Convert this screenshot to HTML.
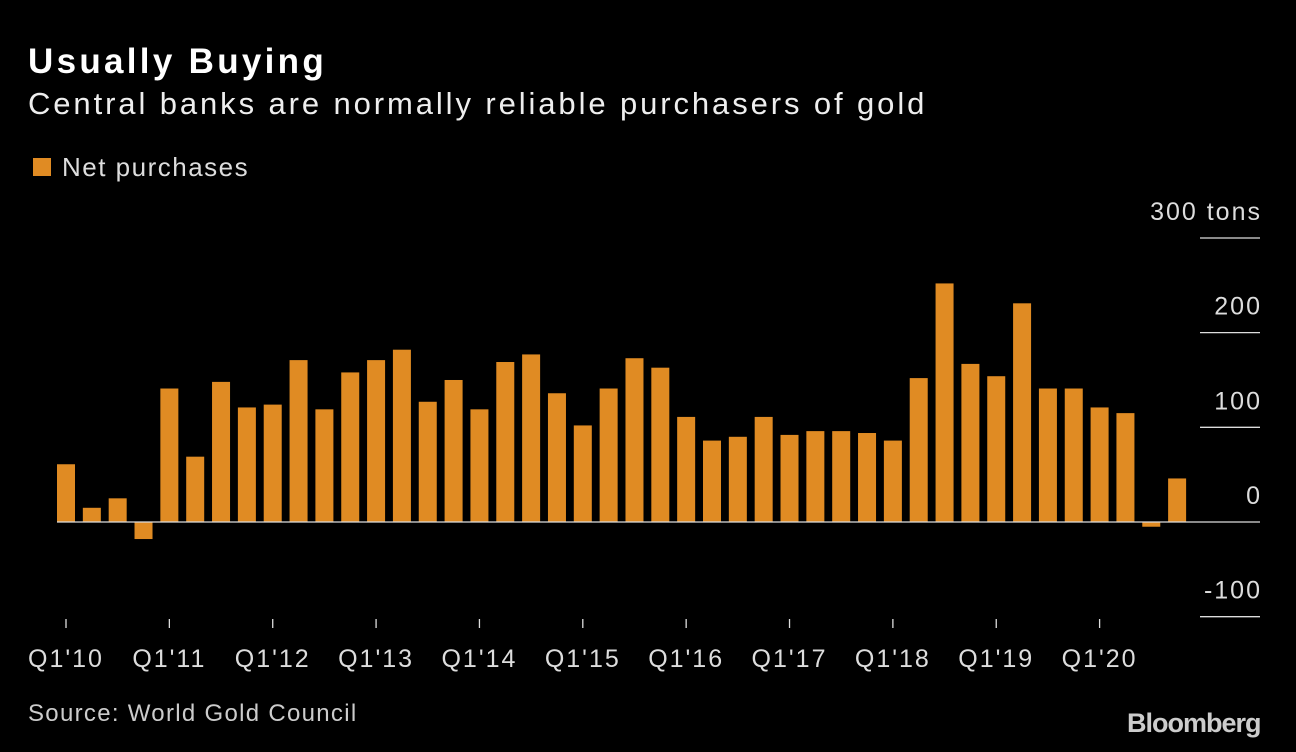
<!DOCTYPE html>
<html><head><meta charset="utf-8"><style>
html,body{margin:0;padding:0;background:#000;width:1296px;height:752px;overflow:hidden;font-family:"Liberation Sans",sans-serif;color:#fff}
.t{position:absolute;white-space:nowrap}
</style></head><body>
<div class="t" style="left:28px;top:42px;font-size:35px;font-weight:bold;letter-spacing:3.3px">Usually Buying</div>
<div class="t" style="left:28px;top:86px;font-size:31px;color:#eee;letter-spacing:2.9px">Central banks are normally reliable purchasers of gold</div>
<div class="t" style="left:33px;top:158px;width:18px;height:18px;background:#e08b23"></div>
<div class="t" style="left:62px;top:152px;font-size:26px;color:#ddd;letter-spacing:1.5px">Net purchases</div>
<div class="t" style="left:28px;top:700px;font-size:24px;color:#ccc;letter-spacing:1.3px">Source: World Gold Council</div>
<div class="t" style="left:1127px;top:708px;font-size:27px;font-weight:bold;color:#ccc;letter-spacing:-1px">Bloomberg</div>
<svg id="chart" width="1296" height="752" style="position:absolute;left:0;top:0"></svg>
<script>
const values=[61,15,25,-18,141,69,148,121,124,171,119,158,171,182,127,150,119,169,177,136,102,141,173,163,111,86,90,111,92,96,96,94,86,152,252,167,154,231,141,141,121,115,-5,46];
const yTicks=[-100,0,100,200,300];
const xLabels=["Q1'10","Q1'11","Q1'12","Q1'13","Q1'14","Q1'15","Q1'16","Q1'17","Q1'18","Q1'19","Q1'20"];
const svg=document.getElementById('chart');
const NS='http://www.w3.org/2000/svg';
const y=v=>522-v*0.9467;
const x=i=>66+i*25.84;
function mk(t,a){const e=document.createElementNS(NS,t);for(const k in a)e.setAttribute(k,a[k]);svg.appendChild(e);return e;}
yTicks.forEach(v=>{
  if(v!==0){const l=mk('line',{x1:1200,x2:1260,y1:y(v),y2:y(v),stroke:'#ddd','stroke-width':1.3});
  
  }
  const t=mk('text',{x:1262,y:y(v)-18,'text-anchor':'end',fill:'#ddd','font-size':25,'letter-spacing':2,'font-family':'Liberation Sans, sans-serif'});
  t.textContent=v===300?'300  tons':String(v);
  t.setAttribute('xml:space','preserve');
  
  
});
values.forEach((v,i)=>{
  const r=mk('rect',{x:x(i)-9,y:Math.min(y(v),y(0)),width:18,height:Math.abs(y(v)-y(0)),fill:'#e08b23'});
  
  
});
const z=mk('line',{x1:57,x2:1260,y1:y(0),y2:y(0),stroke:'#ddd','stroke-width':1.3});


xLabels.forEach((s,k)=>{
  const cx=x(k*4);
  const tk=mk('line',{x1:cx,x2:cx,y1:619,y2:628,stroke:'#ddd','stroke-width':1.3});
  
  
  const t=mk('text',{x:cx,y:667,'text-anchor':'middle',fill:'#ddd','font-size':25,'letter-spacing':2,'font-family':'Liberation Sans, sans-serif'});
  t.textContent=s;
  
  
});
</script>
</body></html>
